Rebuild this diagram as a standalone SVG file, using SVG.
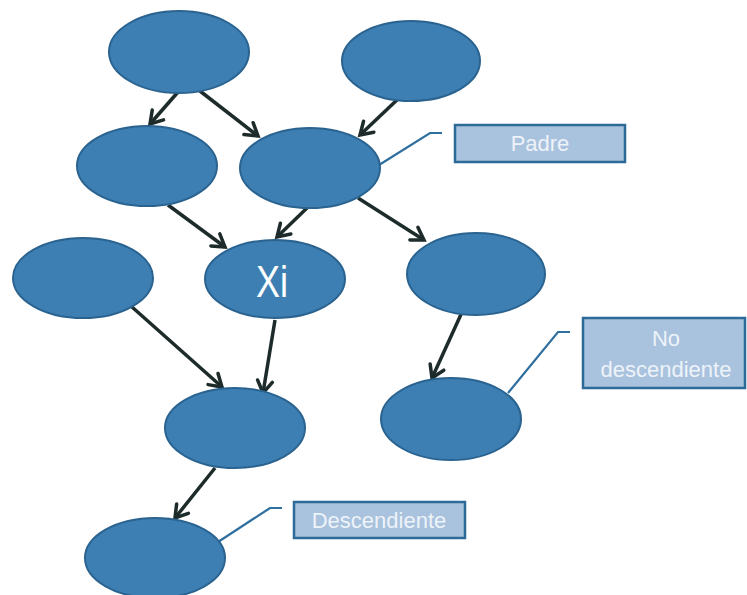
<svg xmlns="http://www.w3.org/2000/svg" width="747" height="595" viewBox="0 0 747 595">
<style>
.node{fill:#3d7fb3;stroke:#2a6390;stroke-width:2}
.edge{stroke:#1e2b2b;stroke-width:3.5;fill:none;marker-end:url(#arr)}
.call{stroke:#2e6fa0;stroke-width:2.2;fill:none}
.box{fill:#a9c2dd;stroke:#2c6a97;stroke-width:2.5}
.lbl{font-family:"Liberation Sans",Arial,sans-serif;font-size:22px;fill:#eef3f9;text-anchor:middle}
.xi{font-family:"Liberation Sans",Arial,sans-serif;font-size:44px;fill:#ffffff;text-anchor:middle}
</style>
<defs>
<marker id="arr" markerUnits="userSpaceOnUse" markerWidth="20" markerHeight="20" viewBox="0 0 20 20" refX="16" refY="10" orient="auto">
<path d="M4,2.5 L16,10 L4,17.5" fill="none" stroke="#1e2b2b" stroke-width="3.5" stroke-linecap="round" stroke-linejoin="miter"/>
</marker>
</defs>
<rect width="747" height="595" fill="#ffffff"/>
<g id="connectors">
<line class="edge" x1="178" y1="92" x2="150" y2="124"/>
<line class="edge" x1="200" y1="91" x2="258" y2="136"/>
<line class="edge" x1="398" y1="99" x2="360" y2="135"/>
<line class="edge" x1="168" y1="205" x2="225" y2="247"/>
<line class="edge" x1="307" y1="208" x2="277" y2="237"/>
<line class="edge" x1="358" y1="198" x2="424" y2="240"/>
<line class="edge" x1="132" y1="307" x2="222" y2="387"/>
<line class="edge" x1="275" y1="320" x2="263" y2="393"/>
<line class="edge" x1="463" y1="310" x2="432" y2="378"/>
<line class="edge" x1="215" y1="468" x2="175" y2="518"/>
</g>
<g id="callouts">
<polyline class="call" points="379,165 430,133 442,133"/>
<polyline class="call" points="508,393 558,332 570,332"/>
<polyline class="call" points="218,542 270,508 282,508"/>
</g>
<g id="nodeA"><ellipse class="node" cx="179" cy="52" rx="70" ry="41"/></g>
<g id="nodeB"><ellipse class="node" cx="411" cy="61" rx="69" ry="40"/></g>
<g id="nodeC"><ellipse class="node" cx="147" cy="166" rx="70" ry="40"/></g>
<g id="nodeD"><ellipse class="node" cx="310" cy="168" rx="70" ry="40"/></g>
<g id="nodeE"><ellipse class="node" cx="83" cy="278" rx="70" ry="40"/></g>
<g id="nodeXi"><ellipse class="node" cx="275" cy="279" rx="70" ry="39"/>
<text class="xi" x="272" y="297" textLength="32" lengthAdjust="spacingAndGlyphs">Xi</text></g>
<g id="nodeF"><ellipse class="node" cx="476" cy="274" rx="69" ry="41"/></g>
<g id="nodeG"><ellipse class="node" cx="235" cy="428" rx="70" ry="40"/></g>
<g id="nodeH"><ellipse class="node" cx="451" cy="419" rx="70" ry="41"/></g>
<g id="nodeI"><ellipse class="node" cx="155" cy="558" rx="70" ry="40"/></g>
<g id="labelPadre"><rect class="box" x="455" y="125" width="170" height="37"/>
<text class="lbl" x="540" y="151">Padre</text></g>
<g id="labelNoDesc"><rect class="box" x="583" y="318" width="162" height="70"/>
<text class="lbl" x="666" y="346">No</text>
<text class="lbl" x="666" y="377">descendiente</text></g>
<g id="labelDesc"><rect class="box" x="294" y="502" width="171" height="36"/>
<text class="lbl" x="379" y="528">Descendiente</text></g>
</svg>
